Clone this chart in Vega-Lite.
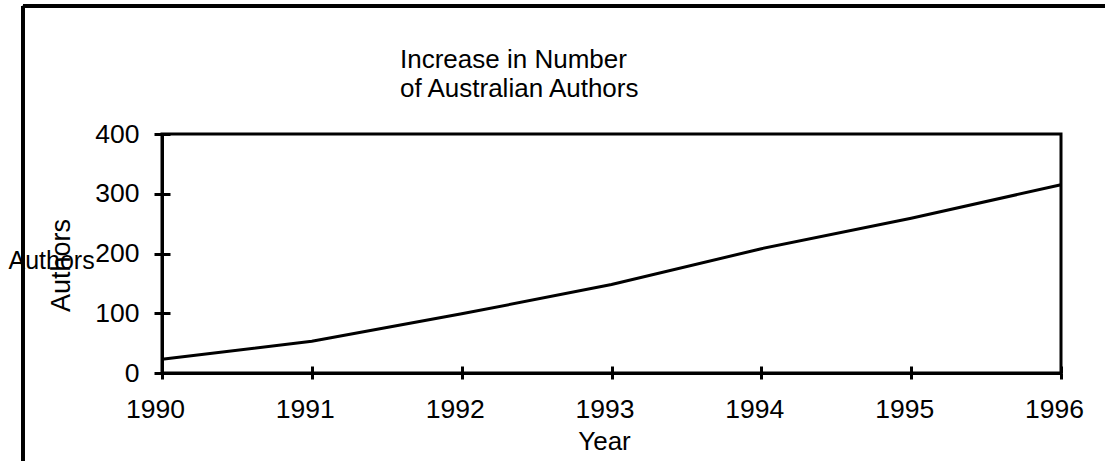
{
  "$schema": "https://vega.github.io/schema/vega-lite/v6.json",
  "width": 899,
  "height": 239,
  "autosize": {"type": "none"},
  "padding": {"left": 162, "top": 134, "right": 44, "bottom": 88},
  "background": "white",
  "config": {
    "font": "Liberation Sans",
    "view": {"stroke": "black", "strokeWidth": 3},
    "axis": {
      "labelFont": "Liberation Sans",
      "titleFont": "Liberation Sans",
      "labelFontSize": 26.5,
      "titleFontSize": 25,
      "titleFontWeight": "normal",
      "labelColor": "black",
      "titleColor": "black",
      "domainColor": "black",
      "tickColor": "black",
      "domainWidth": 3,
      "tickWidth": 3,
      "grid": false
    }
  },
  "title": {
    "text": ["Increase in Number", "of Australian Authors"],
    "anchor": "start",
    "frame": "group",
    "dx": 238,
    "offset": -97,
    "font": "Liberation Sans",
    "fontSize": 26,
    "fontWeight": "normal",
    "color": "black",
    "lineHeight": 29
  },
  "data": {
    "values": [
      {"Year": 1990, "Authors": 23},
      {"Year": 1991, "Authors": 53},
      {"Year": 1992, "Authors": 99},
      {"Year": 1993, "Authors": 148},
      {"Year": 1994, "Authors": 208},
      {"Year": 1995, "Authors": 259},
      {"Year": 1996, "Authors": 315}
    ]
  },
  "layer": [
    {
      "mark": {"type": "line", "color": "black", "strokeWidth": 3},
      "encoding": {
        "x": {
          "field": "Year",
          "type": "quantitative",
          "scale": {"domain": [1990, 1996], "nice": false, "zero": false},
          "axis": {
            "values": [1990, 1991, 1992, 1993, 1994, 1995, 1996],
            "format": "d",
            "tickSize": 6,
            "labelPadding": 17,
            "labelOffset": -7,
            "labelFlush": false,
            "title": "Year",
            "titleFontSize": 26,
            "titleX": 442,
            "titleY": 76,
            "titleAlign": "center",
            "titleBaseline": "alphabetic"
          }
        },
        "y": {
          "field": "Authors",
          "type": "quantitative",
          "scale": {"domain": [0, 400], "nice": false},
          "axis": {
            "values": [0, 100, 200, 300, 400],
            "tickSize": 8,
            "labelPadding": 15,
            "title": "Authors",
            "titleAngle": 0,
            "titleAlign": "left",
            "titleBaseline": "alphabetic",
            "titleX": -154,
            "titleY": 134
          }
        }
      }
    },
    {
      "mark": {"type": "line", "opacity": 0},
      "encoding": {
        "x": {
          "field": "Year",
          "type": "quantitative",
          "scale": {"domain": [1990, 1996], "nice": false, "zero": false},
          "axis": {
            "orient": "bottom",
            "offset": -7,
            "values": [1990, 1991, 1992, 1993, 1994, 1995, 1996],
            "tickSize": 7,
            "labels": false,
            "domain": false,
            "title": null
          }
        },
        "y": {
          "field": "Authors",
          "type": "quantitative",
          "scale": {"domain": [0, 400], "nice": false},
          "axis": {
            "orient": "left",
            "offset": -8,
            "values": [0, 100, 200, 300, 400],
            "tickSize": 8,
            "labels": false,
            "domain": false,
            "title": "Authors",
            "titleFontSize": 27,
            "titleAngle": 270,
            "titleAlign": "center",
            "titleBaseline": "middle",
            "titleX": -109,
            "titleY": 131
          }
        }
      }
    },
    {
      "mark": {"type": "rule", "color": "black", "strokeWidth": 3},
      "encoding": {
        "x": {"datum": 1989.072, "type": "quantitative", "scale": {"domain": [1990, 1996], "nice": false, "zero": false}, "axis": null},
        "y": {"datum": -170, "type": "quantitative", "scale": {"domain": [0, 400], "nice": false}, "axis": null},
        "y2": {"datum": 614.2}
      }
    },
    {
      "mark": {"type": "rule", "color": "black", "strokeWidth": 3},
      "encoding": {
        "x": {"datum": 1989.072, "type": "quantitative", "scale": {"domain": [1990, 1996], "nice": false, "zero": false}, "axis": null},
        "x2": {"datum": 1996.4},
        "y": {"datum": 614.2, "type": "quantitative", "scale": {"domain": [0, 400], "nice": false}, "axis": null}
      }
    }
  ],
  "resolve": {"axis": {"x": "independent", "y": "independent"}}
}
